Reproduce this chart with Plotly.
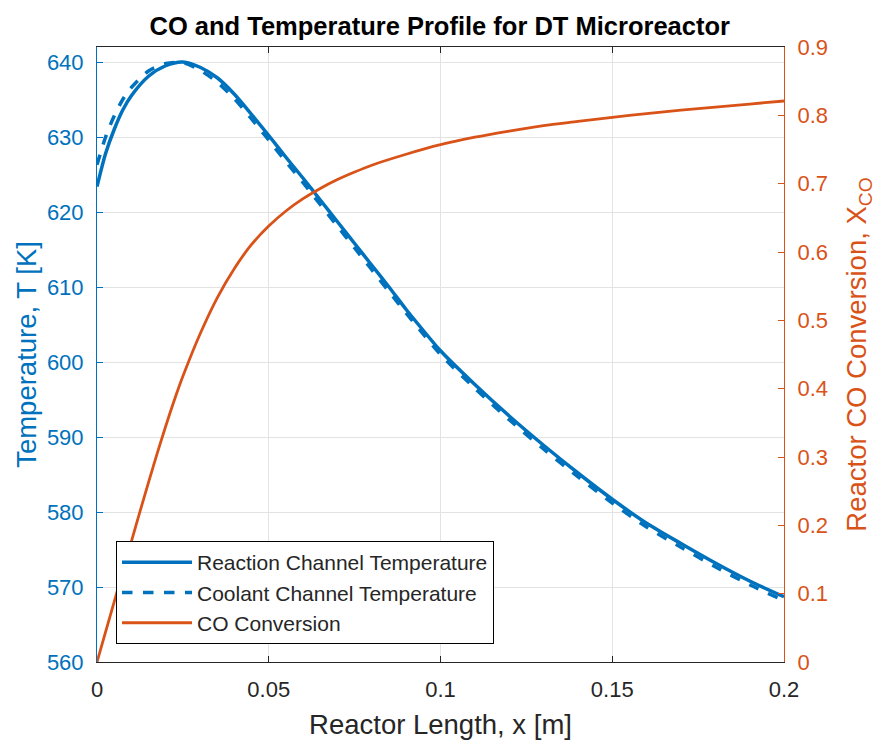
import plotly.graph_objects as go

# Axial positions along the reactor [m] for the temperature profiles
x_temp = [0, 0.0025, 0.005, 0.0075, 0.01, 0.015, 0.02, 0.025, 0.03, 0.035,
          0.04, 0.045, 0.05, 0.055, 0.06, 0.065, 0.07, 0.075, 0.08, 0.085,
          0.09, 0.095, 0.1, 0.11, 0.12, 0.13, 0.14, 0.15, 0.16, 0.17,
          0.18, 0.19, 0.2]

# Reaction channel temperature [K]
t_reaction = [623.4, 627.8, 631.0, 633.6, 635.5, 638.1, 639.5, 640.0, 639.3, 637.9,
              635.7, 633.0, 630.2, 627.3, 624.5, 621.6, 618.7, 615.8, 612.9, 610.0,
              607.0, 604.2, 601.5, 597.0, 592.8, 588.9, 585.2, 581.7, 578.5, 575.8,
              573.2, 570.8, 568.7]

# Coolant channel temperature [K]
t_coolant = [626.3, 630.0, 632.8, 635.0, 636.6, 638.8, 639.8, 639.9, 638.9, 637.3,
             635.1, 632.4, 629.6, 626.7, 623.9, 621.0, 618.1, 615.2, 612.3, 609.4,
             606.5, 603.7, 601.0, 596.5, 592.3, 588.4, 584.7, 581.2, 578.0, 575.3,
             572.7, 570.3, 568.2]

# Axial positions [m] and CO conversion
x_conv = [0, 0.0025, 0.005, 0.0075, 0.01, 0.0125, 0.015, 0.0175, 0.02, 0.0225,
          0.025, 0.03, 0.035, 0.04, 0.045, 0.05, 0.055, 0.06, 0.065, 0.07,
          0.075, 0.08, 0.09, 0.1, 0.11, 0.12, 0.13, 0.14, 0.15, 0.16,
          0.17, 0.18, 0.19, 0.2]
co_conversion = [0, 0.044, 0.088, 0.132, 0.176, 0.22, 0.263, 0.305, 0.345, 0.383,
                 0.418, 0.48, 0.533, 0.576, 0.611, 0.638, 0.66, 0.678, 0.693, 0.706,
                 0.717, 0.727, 0.743, 0.757, 0.768, 0.777, 0.785, 0.791, 0.797, 0.8025,
                 0.8075, 0.812, 0.8165, 0.821]

# Tick values
x_ticks = [0, 0.05, 0.1, 0.15, 0.2]
x_tick_text = ["0", "0.05", "0.1", "0.15", "0.2"]
t_ticks = [560, 570, 580, 590, 600, 610, 620, 630, 640]
conv_ticks = [0, 0.1, 0.2, 0.3, 0.4, 0.5, 0.6, 0.7, 0.8, 0.9]
conv_tick_text = ["0", "0.1", "0.2", "0.3", "0.4", "0.5", "0.6", "0.7", "0.8", "0.9"]

BLUE = "#0072BD"
ORANGE = "#D95319"
DARK = "#262626"
GRID = "#E3E3E3"
FONT = "Liberation Sans, Arial, Helvetica, sans-serif"

fig = go.Figure()

fig.add_trace(go.Scatter(
    x=x_temp, y=t_reaction, mode="lines", name="Reaction Channel Temperature",
    line=dict(color=BLUE, width=3.5, shape="spline", smoothing=0.8),
    legendgroup="a", yaxis="y"))
fig.add_trace(go.Scatter(
    x=x_temp, y=t_coolant, mode="lines", name="Coolant Channel Temperature",
    line=dict(color=BLUE, width=3.5, dash="dash", shape="spline", smoothing=0.8),
    legendgroup="b", yaxis="y"))
fig.add_trace(go.Scatter(
    x=x_conv, y=co_conversion, mode="lines", name="CO Conversion",
    line=dict(color=ORANGE, width=2.8, shape="spline", smoothing=0.8),
    legendgroup="c", yaxis="y2"))

fig.update_layout(
    width=883, height=740,
    margin=dict(l=97, r=99, t=47, b=78, pad=0, autoexpand=False),
    paper_bgcolor="white", plot_bgcolor="white",
    font=dict(family=FONT, color=DARK),
    showlegend=True,
    title=dict(
        text="<b>CO and Temperature Profile for DT Microreactor</b>",
        font=dict(family=FONT, size=25.5, color="#000000"),
        x=0.4989, xanchor="center", xref="paper",
        y=1 - 26 / 740, yanchor="middle", yref="container"),
    xaxis=dict(
        range=[0, 0.2], tickvals=x_ticks, ticktext=x_tick_text,
        showgrid=True, gridcolor=GRID, gridwidth=1, automargin=False,
        zeroline=False, showline=True, linecolor=DARK, linewidth=1,
        mirror="ticks", ticks="inside", ticklen=6, tickcolor=DARK,
        tickfont=dict(size=22, color=DARK), ticklabelstandoff=8,
        title=dict(text="Reactor Length, x [m]", font=dict(size=27.5, color=DARK),
                   standoff=14)),
    yaxis=dict(
        range=[560, 642], tickvals=t_ticks,
        showgrid=True, gridcolor=GRID, gridwidth=1, automargin=False,
        zeroline=False, showline=True, linecolor=BLUE, linewidth=1,
        ticks="inside", ticklen=6, tickcolor=BLUE,
        tickfont=dict(size=22, color=BLUE), ticklabelstandoff=8,
        title=dict(text="Temperature, T [K]", font=dict(size=27.5, color=BLUE),
                   standoff=2)),
    yaxis2=dict(
        range=[0, 0.9], tickvals=conv_ticks, ticktext=conv_tick_text,
        overlaying="y", side="right", showgrid=False, automargin=False,
        zeroline=False, showline=True, linecolor=ORANGE, linewidth=1,
        ticks="inside", ticklen=6, tickcolor=ORANGE,
        tickfont=dict(size=22, color=ORANGE), ticklabelstandoff=8,
        title=dict(text="Reactor CO Conversion, X<sub>CO</sub>",
                   font=dict(size=27.5, color=ORANGE), standoff=19)),
    legend=dict(
        x=(116 - 97) / 687, y=(662 - 644) / 615, xanchor="left", yanchor="bottom",
        bgcolor="white", bordercolor="#000000", borderwidth=1,
        font=dict(size=21, color=DARK), itemwidth=70,
        tracegroupgap=0, traceorder="normal"),
)

fig.write_html("out.html")
